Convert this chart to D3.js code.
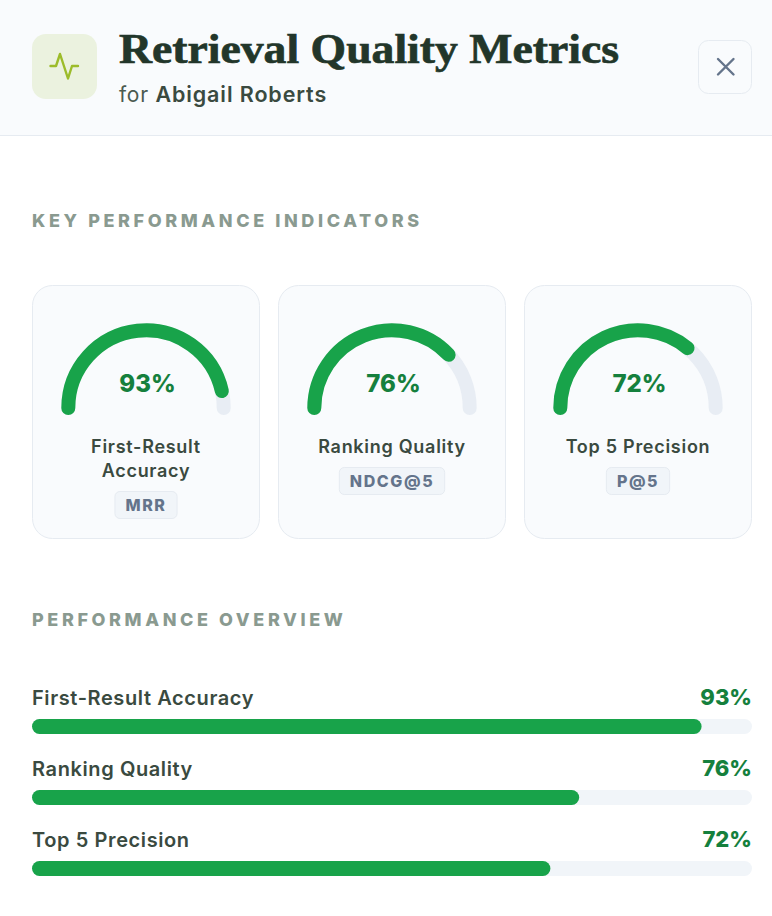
<!DOCTYPE html>
<html><head><meta charset="utf-8">
<script src="https://cdn.jsdelivr.net/npm/d3@7"></script>
<style>html,body{margin:0;padding:0;background:#fff}svg{display:block}text{font-family:Inter,sans-serif}</style>
</head><body><div id="c"></div>
<script>
const metrics=["First-Result Accuracy","Ranking Quality","Top 5 Precision"];
const cardLines=[["First-Result","Accuracy"],["Ranking Quality"],["Top 5 Precision"]];
const badges=["MRR","NDCG@5","P@5"];
const values=[93,76,72];
const titleText="Retrieval Quality Metrics";
const green="#18a34a",track="#e8edf4",dark="#3a4a40";
const svg=d3.select("#c").append("svg").attr("width",772).attr("height",916);
svg.append("rect").attr("width",772).attr("height",135).attr("fill","#f9fbfd");
svg.append("rect").attr("y",135).attr("width",772).attr("height",1).attr("fill","#e6ebf1");
svg.append("rect").attr("x",32).attr("y",34).attr("width",65).attr("height",65).attr("rx",14).attr("fill","#ebf2df");
svg.append("path").attr("d",d3.line()([[50.5,66],[56,66],[60,54],[68,78.5],[72,66],[78,66]])).attr("fill","none").attr("stroke","#9cbc2a").attr("stroke-width",2.4).attr("stroke-linecap","round").attr("stroke-linejoin","round");
svg.append("text").attr("x",119).attr("y",63).attr("font-size",43).attr("font-weight",700).attr("fill","#22362a").attr("stroke","#22362a").attr("stroke-width",.7).style("font-family","'Liberation Serif',serif").attr("textLength",500).attr("lengthAdjust","spacingAndGlyphs").text(titleText);
const sub=svg.append("text").attr("x",119).attr("y",102).attr("font-size",21).attr("letter-spacing",.7).attr("fill","#4a5a50");
sub.append("tspan").text("for ");
sub.append("tspan").attr("font-weight",600).attr("font-size",21.5).attr("letter-spacing",.9).attr("fill",dark).text("Abigail Roberts");
svg.append("rect").attr("x",698.5).attr("y",40.5).attr("width",53).attr("height",53).attr("rx",10).attr("fill","#f9fbfd").attr("stroke","#e6ebf1");
svg.append("path").attr("d","M718 59L733.5 74.5M733.5 59L718 74.5").attr("stroke","#64748b").attr("stroke-width",2.4).attr("stroke-linecap","round");
function heading(t,y){svg.append("text").attr("x",32).attr("y",y).attr("font-size",18).attr("font-weight",800).attr("letter-spacing",3.6).attr("fill","#8a9a90").text(t);}
heading("KEY PERFORMANCE INDICATORS",227);
heading("PERFORMANCE OVERVIEW",626);
const cardX=d3.scaleBand().domain(metrics).range([32,752]).paddingInner(18/246).paddingOuter(0);
const angle=d3.scaleLinear().domain([0,100]).range([-Math.PI/2,Math.PI/2]);
const r=77.7;
const arcPath=(a0,a1)=>{const p=d3.path();p.arc(0,0,r,a0-Math.PI/2,a1-Math.PI/2);return p.toString();};
metrics.forEach((m,i)=>{
  const x=cardX(m),w=cardX.bandwidth(),cx=x+w/2;
  const g=svg.append("g");
  g.append("rect").attr("x",x+.5).attr("y",285.5).attr("width",w-1).attr("height",253).attr("rx",20).attr("fill","#f9fbfd").attr("stroke","#e6ebf1");
  const a=g.append("g").attr("transform",`translate(${cx},408)`).attr("fill","none").attr("stroke-width",14).attr("stroke-linecap","round");
  a.append("path").attr("d",arcPath(angle(0),angle(100))).attr("stroke",track);
  a.append("path").attr("d",arcPath(angle(0),angle(values[i]))).attr("stroke",green);
  g.append("text").attr("x",cx+1.5).attr("y",392).attr("text-anchor","middle").attr("font-size",24).attr("font-weight",800).attr("fill","#15803d").text(values[i]+"%");
  cardLines[i].forEach((l,j)=>g.append("text").attr("x",cx).attr("y",453+24*j).attr("text-anchor","middle").attr("font-size",18).attr("font-weight",600).attr("letter-spacing",.72).attr("fill",dark).text(l));
  const by=467+24*(cardLines[i].length-1);
  const t=g.append("text").attr("x",cx).attr("y",by+20).attr("text-anchor","middle").attr("font-size",16).attr("font-weight",800).attr("letter-spacing",1.6).attr("fill","#64748b").text(badges[i]);
  const tw=t.node().getComputedTextLength();
  g.insert("rect","text:last-of-type").attr("x",cx-tw/2-10.5).attr("y",by+.5).attr("width",tw+21).attr("height",27).attr("rx",5).attr("fill","#f1f5f9").attr("stroke","#e6ebf1");
});
const barX=d3.scaleLinear().domain([0,100]).range([0,720]);
const rowY=d3.scalePoint().domain(metrics).range([719,861]);
metrics.forEach((m,i)=>{
  const y=rowY(m);
  svg.append("text").attr("x",32).attr("y",y-14).attr("font-size",20).attr("font-weight",600).attr("letter-spacing",.6).attr("fill",dark).text(m);
  svg.append("text").attr("x",752).attr("y",y-14).attr("text-anchor","end").attr("font-size",22).attr("font-weight",800).attr("fill","#15803d").text(values[i]+"%");
  svg.append("rect").attr("x",32).attr("y",y).attr("width",barX(100)).attr("height",15).attr("rx",7.5).attr("fill","#f1f5f9");
  svg.append("rect").attr("x",32).attr("y",y).attr("width",barX(values[i])).attr("height",15).attr("rx",7.5).attr("fill",green);
});
</script></body></html>
